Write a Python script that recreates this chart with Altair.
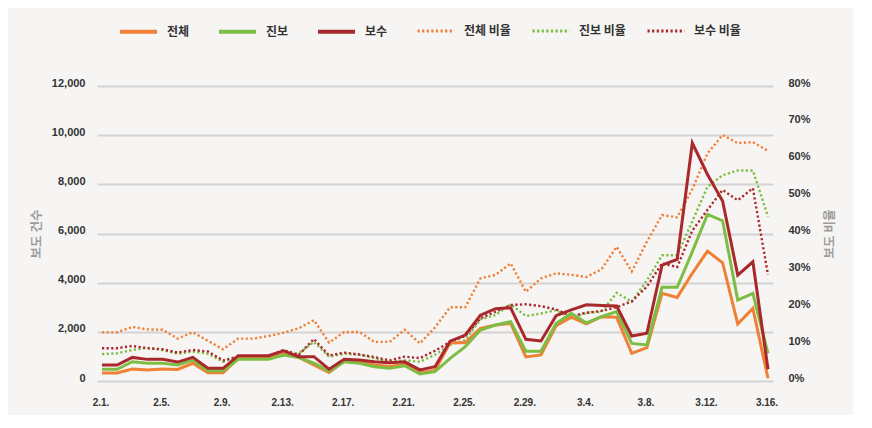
import altair as alt
import pandas as pd

dates = ["2.1.", "2.2.", "2.3.", "2.4.", "2.5.", "2.6.", "2.7.", "2.8.", "2.9.", "2.10.",
         "2.11.", "2.12.", "2.13.", "2.14.", "2.15.", "2.16.", "2.17.", "2.18.", "2.19.", "2.20.",
         "2.21.", "2.22.", "2.23.", "2.24.", "2.25.", "2.26.", "2.27.", "2.28.", "2.29.",
         "3.1.", "3.2.", "3.3.", "3.4.", "3.5.", "3.6.", "3.7.", "3.8.", "3.9.", "3.10.",
         "3.11.", "3.12.", "3.13.", "3.14.", "3.15.", "3.16."]
tick_labels = ["2.1.", "2.5.", "2.9.", "2.13.", "2.17.", "2.21.", "2.25.", "2.29.",
               "3.4.", "3.8.", "3.12.", "3.16."]

# 보도 건수
total = [330, 330, 490, 450, 490, 470, 720, 340, 340, 920, 920, 920, 1100, 960, 650, 350,
         800, 760, 650, 590, 680, 330, 430, 1560, 1560, 2140, 2275, 2345, 980, 1060, 2250,
         2600, 2320, 2615, 2590, 1125, 1355, 3565, 3400, 4380, 5285, 4810, 2320, 2955, 110]
prog = [475, 475, 785, 720, 720, 650, 850, 420, 420, 880, 880, 880, 1057, 960, 730, 400,
        780, 720, 580, 520, 620, 285, 380, 920, 1395, 2070, 2275, 2410, 1210, 1210, 2340,
        2750, 2360, 2615, 2820, 1530, 1465, 3810, 3810, 5260, 6775, 6520, 3290, 3565, 1120]
cons = [650, 650, 960, 880, 880, 770, 960, 515, 515, 1030, 1030, 1030, 1230, 990, 990, 480,
        880, 850, 780, 740, 780, 450, 580, 1620, 1870, 2680, 2940, 2980, 1695, 1630, 2660,
        2890, 3100, 3070, 3050, 1830, 1940, 4715, 4945, 9680, 8400, 7320, 4310, 4850, 475]

# 보도 비율 (%)
total_pct = [13.2, 13.2, 14.7, 14.0, 13.9, 11.5, 13.2, 10.9, 8.6, 11.5, 11.5, 12.2, 13.1, 14.3,
             16.5, 10.4, 13.3, 13.3, 10.6, 10.6, 13.9, 10.2, 14.5, 20.0, 20.0, 27.8, 28.8, 31.9,
             24.2, 27.8, 29.2, 28.8, 28.2, 30.3, 36.4, 29.7, 37.8, 45.0, 44.4, 52.0, 61.7, 66.7,
             64.5, 64.8, 62.4]
prog_pct = [7.3, 7.5, 8.4, 9.0, 8.4, 7.4, 8.0, 7.4, 5.2, 6.6, 6.6, 6.6, 6.9, 7.5, 10.6, 6.6,
            7.4, 7.1, 6.2, 5.2, 5.6, 5.2, 7.1, 9.8, 11.1, 16.7, 17.9, 20.8, 17.6, 18.3, 19.2,
            17.0, 18.5, 18.8, 23.9, 21.5, 27.3, 34.1, 34.1, 43.3, 52.7, 55.8, 57.1, 57.1, 44.6]
cons_pct = [8.9, 8.9, 9.5, 8.9, 8.6, 7.7, 8.4, 8.0, 5.6, 6.6, 6.6, 6.8, 8.4, 7.1, 11.4, 6.9,
            7.7, 7.2, 6.5, 5.6, 6.6, 6.2, 8.2, 10.6, 12.2, 17.0, 18.8, 20.6, 20.8, 20.3, 19.4,
            17.6, 18.5, 19.0, 20.0, 21.6, 25.6, 31.9, 30.9, 40.8, 46.4, 51.8, 49.0, 52.3, 28.8]

count_names = ["전체", "진보", "보수"]
pct_names = ["전체 비율", "진보 비율", "보수 비율"]
colors = ["#f08035", "#7dbd44", "#a9282c"]

rows = []
for name, vals in zip(count_names, [total, prog, cons]):
    for d, v in zip(dates, vals):
        rows.append({"date": d, "series": name, "value": v})
counts_df = pd.DataFrame(rows)

rows = []
for name, vals in zip(pct_names, [total_pct, prog_pct, cons_pct]):
    for d, v in zip(dates, vals):
        rows.append({"date": d, "series": name, "value": v})
pct_df = pd.DataFrame(rows)

NUM_FONT = "Liberation Sans"
KR_FONT = "Noto Sans CJK KR"
DASH = [2.2, 2.4]

x_enc = alt.X(
    "date:N", sort=dates,
    scale=alt.Scale(type="point", padding=0.33),
    axis=alt.Axis(values=tick_labels, title=None, labelAngle=0, ticks=False, tickSize=0,
                  domain=False, grid=False, labelPadding=16, labelFont=NUM_FONT,
                  labelFontSize=10, labelFontWeight="bold", labelColor="#333333",
                  labelOffset=-1.5),
)

legend_common = dict(
    orient="none", direction="horizontal", columns=3, title=None,
    symbolType="stroke", symbolSize=1369, symbolStrokeWidth=4,
    labelFont=KR_FONT, labelFontSize=12, labelFontWeight="bold", labelColor="#333333",
    labelOffset=8, legendY=-75,
)

counts = alt.Chart(counts_df).mark_line(strokeWidth=3).encode(
    x=x_enc,
    y=alt.Y("value:Q", scale=alt.Scale(domain=[0, 12000]),
            axis=alt.Axis(orient="left", values=[0, 2000, 4000, 6000, 8000, 10000, 12000],
                          labelExpr="format(datum.value, ',')", title="보도 건수",
                          grid=True, gridColor="#d3d3d3",
                          gridWidth=2, ticks=False, domain=False, labelPadding=12,
                          labelFont=NUM_FONT, labelFontSize=11, labelFontWeight="bold",
                          labelColor="#333333", labelOffset=-3,
                          titleFont=KR_FONT, titleFontSize=12.5, titleFontWeight="bold",
                          titleColor="#9d9d9d", titlePadding=8)),
    color=alt.Color("series:N", scale=alt.Scale(domain=count_names, range=colors),
                    legend=alt.Legend(legendX=21, columnPadding=21, **legend_common)),
)

ratio = alt.Chart(pct_df).mark_line(strokeWidth=2.4, strokeDash=DASH).encode(
    x=x_enc,
    y=alt.Y("value:Q", scale=alt.Scale(domain=[0, 80]),
            axis=alt.Axis(orient="right", values=[0, 10, 20, 30, 40, 50, 60, 70, 80],
                          labelExpr="datum.value + '%'", title="보도 비율", grid=False,
                          ticks=False, domain=False, labelPadding=15,
                          labelFont=NUM_FONT, labelFontSize=11, labelFontWeight="bold",
                          labelColor="#333333", labelOffset=-3,
                          titleFont=KR_FONT, titleFontSize=12.5, titleFontWeight="bold",
                          titleColor="#9d9d9d", titlePadding=26, titleAngle=270)),
    color=alt.Color("series:N", scale=alt.Scale(domain=pct_names, range=colors),
                    legend=alt.Legend(legendX=319, columnPadding=15, symbolDash=DASH,
                                      **{**legend_common, "symbolStrokeWidth": 3})),
)

chart = alt.layer(ratio, counts).resolve_scale(
    y="independent", color="independent"
).properties(
    width=676, height=295,
    padding={"left": 89, "top": 78, "right": 80, "bottom": 34},
    autosize=alt.AutoSizeParams(type="none"),
    background="#f6f5f3",
).configure_view(stroke=None)

chart.save("out.html", embed_options={"renderer": "svg", "actions": False})
